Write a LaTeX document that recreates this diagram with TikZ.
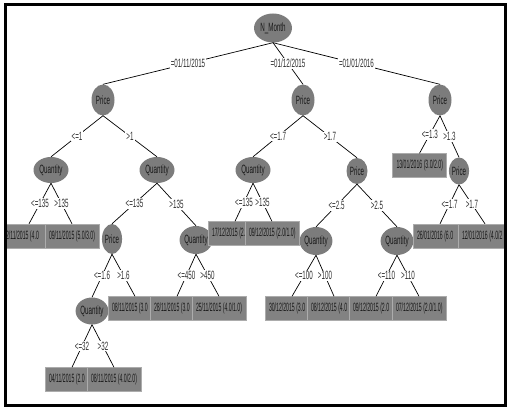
\documentclass[tikz,border=0pt]{standalone}
\usepackage{fontspec}
\setmainfont{Liberation Sans}
\newfontfamily\nodefont[FakeStretch=0.52]{Liberation Sans}
\newfontfamily\boxfont[FakeStretch=0.43]{Liberation Sans}
\usetikzlibrary{shapes.geometric}
\definecolor{nodegray}{HTML}{7C7C7C}
\definecolor{leafgray}{HTML}{828282}
\definecolor{textgray}{HTML}{303030}
\newcommand{\cell}[1]{\makebox[46pt][l]{#1}}

\begin{document}
\begin{tikzpicture}[x=1pt, y=-1pt,
  splitnode/.style={ellipse, fill=nodegray, inner sep=0pt, text=black!90, font=\fontsize{12}{12}\selectfont\nodefont},
  leafbox/.style={rectangle, draw=gray!65, fill=leafgray, minimum height=24pt, inner xsep=4pt, inner ysep=0pt, text=black!90, font=\fontsize{12}{12}\selectfont\boxfont},
  branch/.style={draw=black, line width=0.7pt},
  cond/.style={fill=white, inner sep=1pt, text=textgray, font=\fontsize{12}{12}\selectfont\nodefont}
]
\useasboundingbox (0,0) rectangle (513,412);

\begin{scope}
\clip (6,6) rectangle (504,403);
\node[splitnode, minimum width=38pt, minimum height=29pt] (root) at (273,28) {N\_Month};

\node[splitnode, minimum width=23pt, minimum height=31pt] (p1) at (103,100) {Price};
\node[splitnode, minimum width=23pt, minimum height=31pt] (p2) at (303,100) {Price};
\node[splitnode, minimum width=23pt, minimum height=31pt] (p3) at (440,100) {Price};

\node[splitnode, minimum width=35pt, minimum height=26pt] (q1) at (51,170) {Quantity};
\node[splitnode, minimum width=35pt, minimum height=26pt] (q2) at (157,170) {Quantity};
\node[splitnode, minimum width=35pt, minimum height=26pt] (q3) at (253,170) {Quantity};
\node[splitnode, minimum width=21pt, minimum height=26pt] (p4) at (357,171) {Price};
\node[splitnode, minimum width=19pt, minimum height=27pt] (p5) at (459,171) {Price};

\node[splitnode, minimum width=18pt, minimum height=30pt] (p6) at (112,239) {Price};
\node[splitnode, minimum width=30pt, minimum height=28pt] (q4) at (196,240) {Quantity};
\node[splitnode, minimum width=32pt, minimum height=28pt] (q5) at (316,241) {Quantity};
\node[splitnode, minimum width=30pt, minimum height=28pt] (q6) at (397,241) {Quantity};

\node[splitnode, minimum width=31pt, minimum height=27pt] (q7) at (92,311) {Quantity};

\node[leafbox] (b1) at (419.5,165.5) {\cell{13/01/2016 (3.0/2.0)}};

\node[leafbox] (b2) at (29,236) {\cell{2/11/2015 (4.0}};
\node[leafbox] (b3) at (72,236) {\cell{09/11/2015 (5.0/3.0)}};
\node[leafbox] (b4) at (235,233.5) {\cell{17/12/2015 (2.0}};
\node[leafbox] (b5) at (272,233.5) {\cell{09/12/2015 (2.0/1.0)}};
\node[leafbox] (b6) at (440,236) {\cell{26/01/2016 (6.0}};
\node[leafbox] (b7) at (485,236) {\cell{12/01/2016 (4.0/2}};

\node[leafbox] (b8) at (135,308.5) {\cell{08/11/2015 (3.0}};
\node[leafbox] (b9) at (177,308.5) {\cell{28/11/2015 (3.0}};
\node[leafbox] (b10) at (219,308.5) {\cell{25/11/2015 (4.0/1.0)}};
\node[leafbox] (b11) at (292,308.5) {\cell{30/12/2015 (3.0}};
\node[leafbox] (b12) at (334,308.5) {\cell{08/12/2015 (4.0}};
\node[leafbox] (b13) at (376,308.5) {\cell{09/12/2015 (2.0}};
\node[leafbox] (b14) at (419,308.5) {\cell{07/12/2015 (2.0/1.0)}};

\node[leafbox] (b15) at (72,379.5) {\cell{04/11/2015 (2.0}};
\node[leafbox] (b16) at (114,379.5) {\cell{08/11/2015 (4.0/2.0)}};

\foreach \a/\b/\t in {root/p1/{=01/11/2015}, root/p2/{=01/12/2015}, root/p3/{=01/01/2016},
    p1/q1/{<=1}, p1/q2/{>1}, p2/q3/{<=1.7}, p2/p4/{>1.7}, p3/b1/{<=1.3}, p3/p5/{>1.3},
    q1/b2/{<=135}, q1/b3/{>135}, q2/p6/{<=135}, q2/q4/{>135}, q3/b4/{<=135}, q3/b5/{>135},
    p4/q5/{<=2.5}, p4/q6/{>2.5}, p5/b6/{<=1.7}, p5/b7/{>1.7},
    p6/q7/{<=1.6}, p6/b8/{>1.6}, q4/b9/{<=450}, q4/b10/{>450},
    q5/b11/{<=100}, q5/b12/{>100}, q6/b13/{<=110}, q6/b14/{>110},
    q7/b15/{<=32}, q7/b16/{>32}}
  \draw[branch] (\a.south) -- node[cond] (c\b) {\t} (\b.north);
\end{scope}

\draw[line width=3pt] (5,4.5) rectangle (505.5,405);
\end{tikzpicture}
\end{document}
